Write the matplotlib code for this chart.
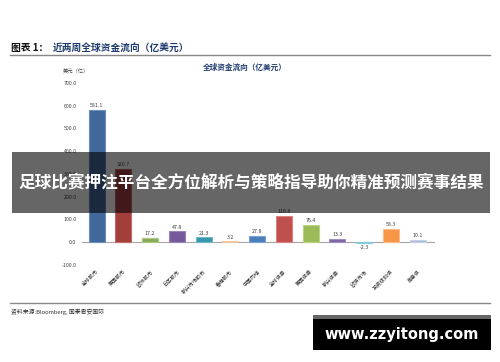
import matplotlib
matplotlib.use("Agg")
import matplotlib.pyplot as plt
from matplotlib.patches import Rectangle

plt.rcParams['font.family'] = ['Noto Sans CJK SC', 'DejaVu Sans']

categories = ["全球股市", "美国股市", "欧洲股市", "日本股市", "新兴市场股市", "香港股市", "中国内地",
              "全球债券", "美国债券", "新兴债券", "欧债市场", "投资级别债", "高息债"]
values = [581.1, 320.7, 17.2, 47.8, 21.3, 3.2, 27.8, 116.8, 76.4, 13.3, -2.3, 58.3, 10.1]
colors = ["#41689b", "#a23f3d", "#8aab56", "#76599a", "#3a96ab", "#e7a56a", "#4a7ebb",
          "#c0504d", "#9bbb59", "#8064a2", "#4bacc6", "#f79646", "#a7b9da"]
edge_colors = ["#6d8fbc", "#c06a68", "#aac67f", "#9a81b8", "#6db8c9", "#f2c79d", "#7aa2d2",
               "#d98280", "#b9d385", "#a28dc0", "#85cadb", "#fbb985", "#c5d2e8"]
yticks = [-100, 0, 100, 200, 300, 400, 500, 600, 700]

fig = plt.figure(figsize=(5.0, 3.62), dpi=100)
ax = fig.add_axes([0.164, 0.268, 0.706, 0.503])

x = list(range(len(categories)))
ax.bar(x, values, width=0.6, color=colors, edgecolor=edge_colors, linewidth=0.8, zorder=2)
ax.axhline(0, color="#a6a6a6", lw=0.8, zorder=1)
ax.set_ylim(-100, 700)
ax.set_xlim(-0.55, len(categories) - 0.55 + 0.2)
ax.set_yticks(yticks)
ax.set_yticklabels([f"{v:.1f}" for v in yticks], fontsize=3.8, color="#404040")
ax.tick_params(axis="y", length=0, pad=4)
ax.set_xticks(x)
ax.set_xticklabels(categories, rotation=45, ha="right", rotation_mode="anchor",
                   fontsize=3.8, color="#303030")
ax.tick_params(axis="x", length=0, pad=3)
for s in ax.spines.values():
    s.set_visible(False)

for xi, v in zip(x, values):
    if v >= 0:
        ax.text(xi, v + 8, f"{v:.1f}", ha="center", va="bottom", fontsize=3.8, color="#404040")
    else:
        ax.text(xi, v - 10, f"{v:.1f}", ha="center", va="top", fontsize=3.8, color="#404040")

fig.text(0.126, 0.8, "美元（亿）", fontsize=3.8, color="#404040", ha="left", va="center")

# Headers
fig.text(0.022, 0.868, "图表 1：", fontsize=7, fontweight="bold", color="#111111", va="center")
fig.text(0.105, 0.868, "近两周全球资金流向（亿美元）", fontsize=7, fontweight="bold",
         color="#1f3a6e", va="center")
fig.add_artist(plt.Line2D([0.02, 0.98], [0.848, 0.848], color="#888888", lw=1.0))
fig.text(0.49, 0.815, "全球资金流向（亿美元）", fontsize=5.5, fontweight="bold",
         color="#1f3a6e", ha="center", va="center")

# Bottom rule and source
fig.add_artist(plt.Line2D([0.02, 0.98], [0.163, 0.163], color="#888888", lw=1.0))
fig.text(0.022, 0.138, "资料来源:Bloomberg, 国泰君安国际", fontsize=4.2, style="italic",
         color="#333333", va="center")

# Overlay banner
fig.add_artist(Rectangle((0.024, 0.412), 0.956, 0.168, transform=fig.transFigure,
                         facecolor="black", alpha=0.6, edgecolor="none", zorder=5))
fig.text(0.502, 0.496, "足球比赛押注平台全方位解析与策略指导助你精准预测赛事结果",
         fontsize=12, fontweight="bold", color="white", ha="center", va="center", zorder=6)

# Watermark box
fig.add_artist(Rectangle((0.626, 0.033), 0.356, 0.097, transform=fig.transFigure,
                         facecolor="black", edgecolor="none", zorder=5))
fig.add_artist(Rectangle((0.626, 0.118), 0.356, 0.012, transform=fig.transFigure,
                         facecolor="#666666", edgecolor="none", zorder=6))
fig.text(0.804, 0.075, "www.zzyitong.com", fontsize=10.5, fontweight="bold", color="white",
         ha="center", va="center", family="DejaVu Sans", zorder=7)

fig.savefig("out.png", dpi=100, facecolor="white")
